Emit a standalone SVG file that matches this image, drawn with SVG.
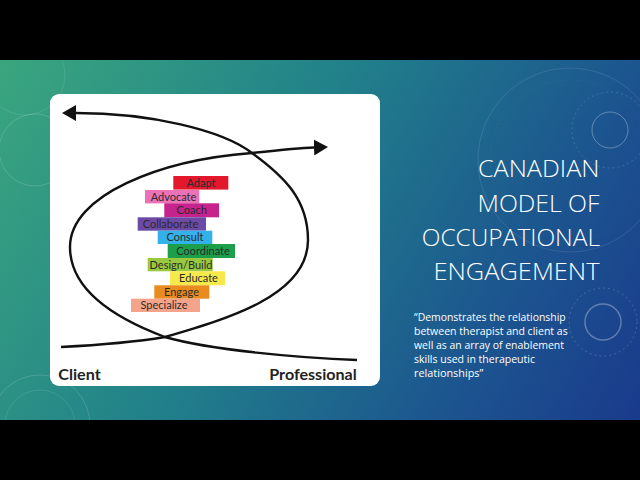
<svg xmlns="http://www.w3.org/2000/svg" width="640" height="480" viewBox="0 0 640 480">
<defs>
<linearGradient id="bg" x1="0" y1="60" x2="640" y2="420" gradientUnits="userSpaceOnUse">
<stop offset="0" stop-color="#3aa67e"/>
<stop offset="0.42" stop-color="#21808a"/>
<stop offset="0.75" stop-color="#1c568f"/>
<stop offset="1" stop-color="#1a3a8c"/>
</linearGradient>
<clipPath id="slide"><rect x="0" y="60" width="640" height="360"/></clipPath>
<marker id="ah" viewBox="0 0 14 16" markerWidth="14" markerHeight="16" refX="0" refY="8" orient="auto" markerUnits="userSpaceOnUse">
<path d="M0,0 L14,8 L0,16 z" fill="#111"/>
</marker>
<style>
.deco{fill:none;stroke:#ffffff}
.bar text{font-family:Lato,"Noto Sans",sans-serif;font-size:11px;fill:#2b2b2b;text-anchor:middle}
.curve{fill:none;stroke:#111;stroke-width:2.4}
.axis{font-family:Lato,"Noto Sans",sans-serif;font-weight:bold;font-size:16px;fill:#222}
.title{font-family:"Open Sans","Noto Sans",sans-serif;font-weight:300;font-size:24px;fill:#ffffff;text-anchor:end}
.quote{font-family:"Open Sans","Noto Sans",sans-serif;font-size:10.5px;fill:#ffffff}
</style>
</defs>
<rect x="0" y="0" width="640" height="480" fill="#000"/>
<rect x="0" y="60" width="640" height="360" fill="url(#bg)"/>
<g id="decor" clip-path="url(#slide)">
<circle class="deco" cx="610" cy="130" r="18" stroke-opacity="0.3" stroke-width="1"/>
<circle class="deco" cx="610" cy="130" r="38" stroke-opacity="0.15" stroke-dasharray="2 3"/>
<circle class="deco" cx="570" cy="160" r="92" stroke-opacity="0.1"/>
<circle class="deco" cx="570" cy="160" r="80" stroke-opacity="0.07" stroke-dasharray="1 3"/>
<circle class="deco" cx="603" cy="322" r="18" stroke-opacity="0.3" stroke-width="1.5"/>
<circle class="deco" cx="603" cy="322" r="34" stroke-opacity="0.18" stroke-dasharray="2 3"/>
<circle class="deco" cx="35" cy="150" r="36" stroke-opacity="0.15"/>
<circle class="deco" cx="25" cy="75" r="40" stroke-opacity="0.1"/>
<circle class="deco" cx="40" cy="425" r="50" stroke-opacity="0.15"/>
<circle class="deco" cx="40" cy="425" r="35" stroke-opacity="0.1"/>
</g>
<g id="panel">
<rect x="50" y="94" width="330" height="292" rx="9" fill="#ffffff"/>
</g>
<g id="connectors">
<path class="curve" d="M61,347 C100,345 135,342 165,337 C230,318 308,295 308,240 C308,200 285,177 252,153 C222,130 150,113 76,113" marker-end="url(#ah)"/>
<path class="curve" d="M357,360 C300,358 210,350 165,337 C125,322 70,295 70,247 C70,195 160,160 252,153 C280,150 300,148 314,147.5" marker-end="url(#ah)"/>
</g>
<g id="bar-adapt" class="bar"><rect x="173.3" y="176" width="55" height="13.6" fill="#e3182d"/><text x="201" y="186.8">Adapt</text></g>
<g id="bar-advocate" class="bar"><rect x="145" y="190" width="54.3" height="13.4" fill="#ec72b8"/><text x="173.5" y="200.7">Advocate</text></g>
<g id="bar-coach" class="bar"><rect x="164.3" y="203.3" width="54.7" height="14" fill="#c6238c"/><text x="191.7" y="214.2">Coach</text></g>
<g id="bar-collaborate" class="bar"><rect x="137.7" y="217.3" width="68.3" height="13.4" fill="#6c4aa6"/><text x="170.5" y="228">Collaborate</text></g>
<g id="bar-consult" class="bar"><rect x="157.7" y="230.7" width="54.6" height="13.3" fill="#33b1ea"/><text x="185" y="241.4">Consult</text></g>
<g id="bar-coordinate" class="bar"><rect x="167.7" y="244" width="67.3" height="14" fill="#1c9e4a"/><text x="203" y="254.9">Coordinate</text></g>
<g id="bar-design" class="bar"><rect x="147.7" y="258" width="65" height="13.3" fill="#99c93f"/><text x="181" y="268.8">Design/Build</text></g>
<g id="bar-educate" class="bar"><rect x="170" y="271.3" width="55" height="14" fill="#f5e94b"/><text x="198.5" y="282.2">Educate</text></g>
<g id="bar-engage" class="bar"><rect x="154.3" y="285.3" width="55" height="13.4" fill="#e98b1f"/><text x="181.5" y="296">Engage</text></g>
<g id="bar-specialize" class="bar"><rect x="131" y="298.7" width="69" height="13.3" fill="#f5a48c"/><text x="164" y="309.4">Specialize</text></g>
<g id="label-client"><text class="axis" x="58.3" y="379.5" textLength="42.4" lengthAdjust="spacingAndGlyphs">Client</text></g>
<g id="label-professional"><text class="axis" x="269.3" y="379.5" textLength="87.4" lengthAdjust="spacingAndGlyphs">Professional</text></g>
<g id="title">
<text class="title" x="599.5" y="176.7" textLength="121.6" lengthAdjust="spacingAndGlyphs">CANADIAN</text>
<text class="title" x="599.5" y="211.7" textLength="122" lengthAdjust="spacingAndGlyphs">MODEL OF</text>
<text class="title" x="600" y="246" textLength="178.3" lengthAdjust="spacingAndGlyphs">OCCUPATIONAL</text>
<text class="title" x="599.5" y="280" textLength="166" lengthAdjust="spacingAndGlyphs">ENGAGEMENT</text>
</g>
<g id="quote">
<text class="quote" x="414" y="321" textLength="151.7" lengthAdjust="spacingAndGlyphs">“Demonstrates the relationship</text>
<text class="quote" x="414" y="335" textLength="153.7" lengthAdjust="spacingAndGlyphs">between therapist and client as</text>
<text class="quote" x="414" y="349" textLength="150" lengthAdjust="spacingAndGlyphs">well as an array of enablement</text>
<text class="quote" x="414" y="363" textLength="121" lengthAdjust="spacingAndGlyphs">skills used in therapeutic</text>
<text class="quote" x="414" y="377" textLength="69.3" lengthAdjust="spacingAndGlyphs">relationships”</text>
</g>
</svg>
